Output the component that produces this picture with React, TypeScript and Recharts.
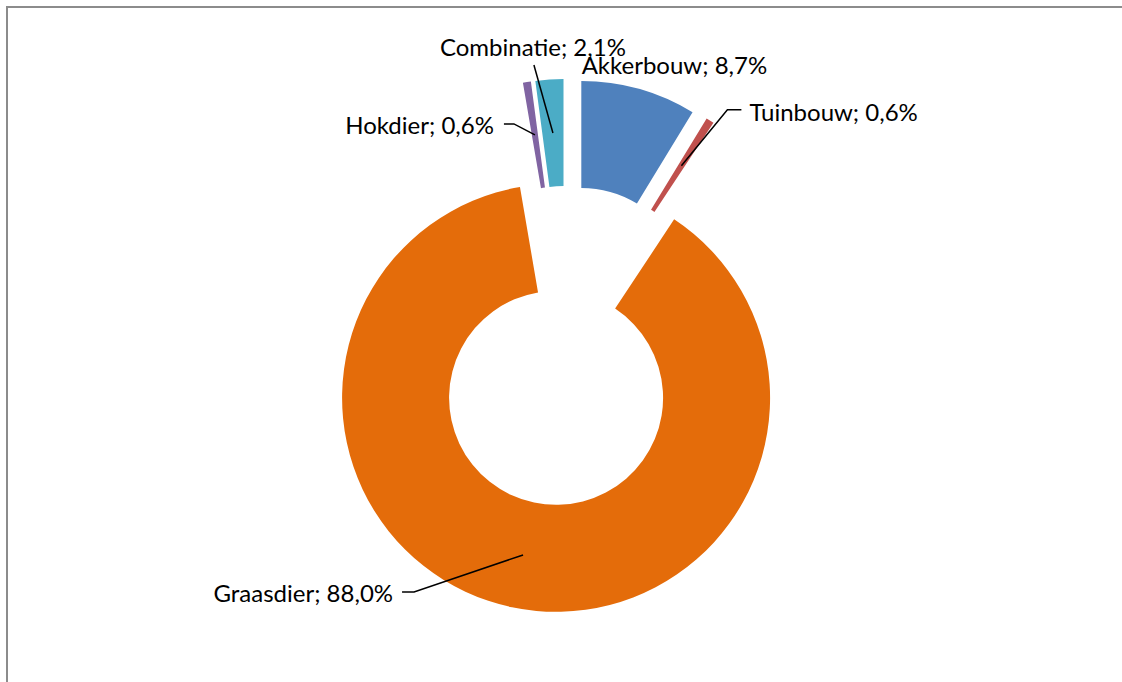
import React from 'react';
import { Pie, PieChart, Sector } from 'recharts';

// sector shares in %, clockwise from 12 o'clock
const categories = ['Akkerbouw', 'Tuinbouw', 'Graasdier', 'Hokdier', 'Combinatie'];
const shares = [8.7, 0.6, 88.0, 0.6, 2.1];
const colors = ['#4F81BD', '#C0504D', '#E46C0A', '#8064A2', '#4BACC6'];

const data = categories.map((name, i) => ({ name, value: shares[i], fill: colors[i] }));

const RAD = Math.PI / 180;
const EXPLODE = 53;
const FONT = 'Lato, "Open Sans", sans-serif';

// label placement relative to the mid-ring point of each (exploded) slice
// line: points of the leader line after the anchor; text: [dx, dy, anchor]
const labelLayout: { line: number[][]; text: [number, number, 'start' | 'middle' | 'end'] }[] = [
  { line: [], text: [-43, -76, 'start'] },
  { line: [[46, -56], [60, -56]], text: [68, -54, 'start'] },
  { line: [[-109, 37], [-121, 37]], text: [-130, 38, 'end'] },
  { line: [[-21, -11], [-31, -11]], text: [-41, -10, 'end'] },
  { line: [[-19, -68]], text: [-20, -86, 'middle'] },
];

const fmt = (v: number) => `${v.toFixed(1).replace('.', ',')}%`;

const shift = (midAngle: number) => ({
  dx: EXPLODE * Math.cos(-midAngle * RAD),
  dy: EXPLODE * Math.sin(-midAngle * RAD),
});

const renderSlice = (props: any) => {
  const { cx, cy, midAngle, innerRadius, outerRadius, startAngle, endAngle, fill } = props;
  const { dx, dy } = shift(midAngle);
  return (
    <Sector
      cx={cx + dx}
      cy={cy + dy}
      innerRadius={innerRadius}
      outerRadius={outerRadius}
      startAngle={startAngle}
      endAngle={endAngle}
      fill={fill}
      stroke="none"
    />
  );
};

const renderLabel = (props: any) => {
  const { cx, cy, midAngle, innerRadius, outerRadius, index, name, value } = props;
  const { dx, dy } = shift(midAngle);
  const r = (innerRadius + outerRadius) / 2;
  const ax = cx + dx + r * Math.cos(-midAngle * RAD);
  const ay = cy + dy + r * Math.sin(-midAngle * RAD);
  const layout = labelLayout[index];
  const pts = [[ax, ay], ...layout.line.map(([x, y]) => [ax + x, ay + y])];
  return (
    <g key={`lbl-${index}`}>
      {layout.line.length > 0 && (
        <polyline
          points={pts.map((p) => p.join(',')).join(' ')}
          fill="none"
          stroke="#000"
          strokeWidth={1.5}
        />
      )}
      <text
        x={ax + layout.text[0]}
        y={ay + layout.text[1]}
        textAnchor={layout.text[2]}
        dominantBaseline="central"
        fontFamily={FONT}
        fontSize={24}
        fill="#000"
      >
        {`${name}; ${fmt(value)}`}
      </text>
    </g>
  );
};

export default function App() {
  return (
    <div style={{ position: 'absolute', left: 0, top: 0, width: 1122, height: 682, background: '#fff', overflow: 'hidden' }}>
      <div
        style={{
          position: 'absolute',
          left: 6,
          top: 6,
          width: 1200,
          height: 720,
          borderLeft: '2px solid #8c8c8c',
          borderTop: '2px solid #8c8c8c',
        }}
      />
      <div style={{ position: 'absolute', left: 0, top: 0 }}>
        <PieChart width={1122} height={682}>
          <Pie
            data={data}
            dataKey="value"
            nameKey="name"
            cx={562}
            cy={341}
            innerRadius={107}
            outerRadius={214}
            startAngle={90}
            endAngle={-270}
            shape={renderSlice}
            label={renderLabel}
            labelLine={false}
            isAnimationActive={false}
          />
        </PieChart>
      </div>
    </div>
  );
}
